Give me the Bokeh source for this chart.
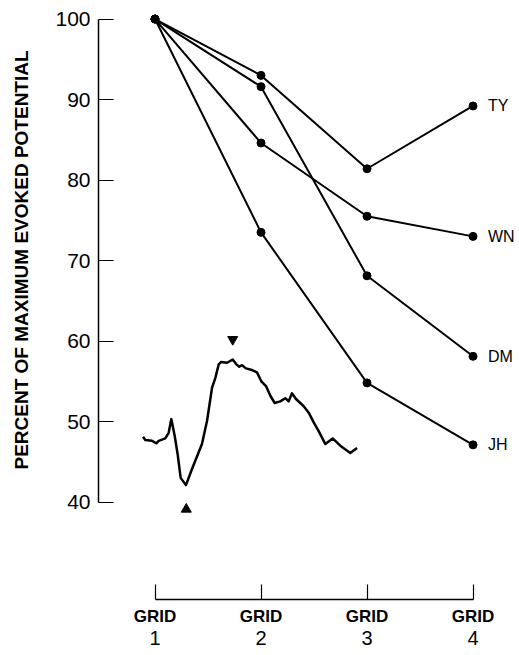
from bokeh.plotting import figure
from bokeh.models import Range1d, FixedTicker, LinearAxis, ColumnDataSource, Title
from bokeh.core.properties import value
from bokeh.embed import file_html
from bokeh.resources import INLINE

# ---- data ----
grids = [1, 2, 3, 4]
grid_labels = ["GRID", "GRID", "GRID", "GRID"]
grid_numbers = ["1", "2", "3", "4"]
y_ticks = [40, 50, 60, 70, 80, 90, 100]

subjects = ["TY", "WN", "DM", "JH"]
ty = [100, 93.0, 81.4, 89.2]
wn = [100, 84.6, 75.5, 73.0]
dm = [100, 91.6, 68.1, 58.1]
jh = [100, 73.5, 54.8, 47.1]

# evoked potential trace (drawn in chart units)
wave_x = [0.887, 0.908, 0.972, 1.012, 1.035, 1.097, 1.129, 1.154, 1.186, 1.214,
          1.242, 1.292, 1.349, 1.443, 1.491, 1.538, 1.569, 1.601, 1.625, 1.679,
          1.733, 1.767, 1.795, 1.821, 1.858, 1.915, 1.962, 2.003, 2.047, 2.088,
          2.129, 2.182, 2.229, 2.261, 2.292, 2.330, 2.403, 2.450, 2.497, 2.544,
          2.607, 2.676, 2.748, 2.842, 2.906]
wave_y = [48.1, 47.7, 47.6, 47.3, 47.6, 47.9, 48.6, 50.3, 48.2, 45.9,
          43.0, 42.1, 44.1, 47.2, 50.1, 54.2, 55.4, 57.1, 57.4, 57.3,
          57.7, 57.1, 56.8, 57.0, 56.6, 56.4, 56.1, 55.0, 54.4, 53.2,
          52.3, 52.5, 52.9, 52.5, 53.5, 52.8, 51.9, 51.1, 49.9, 48.8,
          47.2, 47.9, 47.0, 46.1, 46.7]
peak_down = (1.733, 60.2)   # downward arrowhead above trace peak
peak_up = (1.295, 39.1)     # upward arrowhead below trough

y_title = "PERCENT OF MAXIMUM EVOKED POTENTIAL"

BOLD = "Liberation Sans"
PLAIN = "Liberation Sans"

p = figure(width=518, height=653, output_backend="svg", toolbar_location=None,
           x_range=Range1d(0.467, 4.429), y_range=Range1d(27.89, 101.06),
           min_border_left=98, min_border_right=0, min_border_top=10,
           min_border_bottom=54, x_axis_type=None, y_axis_type=None)
p.outline_line_color = None
p.background_fill_color = "white"
p.border_fill_color = "white"

# y axis
ya = LinearAxis(ticker=FixedTicker(ticks=y_ticks), bounds=(40, 100))
ya.major_tick_in = 15
ya.major_tick_out = 0
ya.minor_tick_line_color = None
ya.axis_line_width = 1.5
ya.major_tick_line_width = 1.2
ya.axis_line_color = "black"
ya.major_tick_line_color = "black"
ya.major_label_text_font = PLAIN
ya.major_label_text_font_size = "21px"
ya.major_label_text_color = "black"
ya.major_label_standoff = 8
ya.axis_label = " "
ya.axis_label_text_font_size = "2px"
ya.axis_label_standoff = 8
p.add_layout(ya, "left")

# y title, placed along the 40-100 part of the axis
yt = Title(text=y_title, align="left", offset=130, text_font=BOLD,
           text_font_style="bold", text_font_size="19px", text_color="black",
           standoff=15)
p.add_layout(yt, "left")

# x axis (GRID words)
xa = LinearAxis(ticker=FixedTicker(ticks=grids), bounds=(1, 4))
xa.major_tick_in = 15
xa.major_tick_out = 0
xa.minor_tick_line_color = None
xa.axis_line_width = 1.5
xa.major_tick_line_width = 1.2
xa.axis_line_color = "black"
xa.major_tick_line_color = "black"
xa.major_label_overrides = {g: t for g, t in zip(grids, grid_labels)}
xa.major_label_text_font = BOLD
xa.major_label_text_font_style = "bold"
xa.major_label_text_font_size = "17px"
xa.major_label_text_color = "black"
xa.major_label_standoff = 7
p.add_layout(xa, "below")

# second row of x labels (numbers)
xb = LinearAxis(ticker=FixedTicker(ticks=grids))
xb.axis_line_color = None
xb.major_tick_line_color = None
xb.minor_tick_line_color = None
xb.major_tick_in = 0
xb.major_tick_out = 0
xb.major_label_overrides = {g: t for g, t in zip(grids, grid_numbers)}
xb.major_label_text_font = PLAIN
xb.major_label_text_font_size = "20px"
xb.major_label_text_color = "black"
xb.major_label_standoff = 2
p.add_layout(xb, "below")

# subject lines
series = [ty, wn, dm, jh]
for vals in series:
    p.line(grids, vals, line_width=2, line_color="black")
    p.scatter(grids, vals, size=8, color="black")

lab = ColumnDataSource(dict(x=[grids[-1]] * 4, y=[s[-1] for s in series], t=subjects))
p.text(x="x", y="y", text="t", source=lab, x_offset=15, text_baseline="middle",
       text_align="left", text_font=value(PLAIN), text_font_size="16px",
       text_color="black")

# evoked potential trace
p.line(wave_x, wave_y, line_width=2.5, line_color="black", line_join="round")
p.scatter([peak_down[0]], [peak_down[1]], marker="inverted_triangle", size=10, color="black")
p.scatter([peak_up[0]], [peak_up[1]], marker="triangle", size=10, color="black")

open("out.html", "w").write(file_html(p, INLINE))
